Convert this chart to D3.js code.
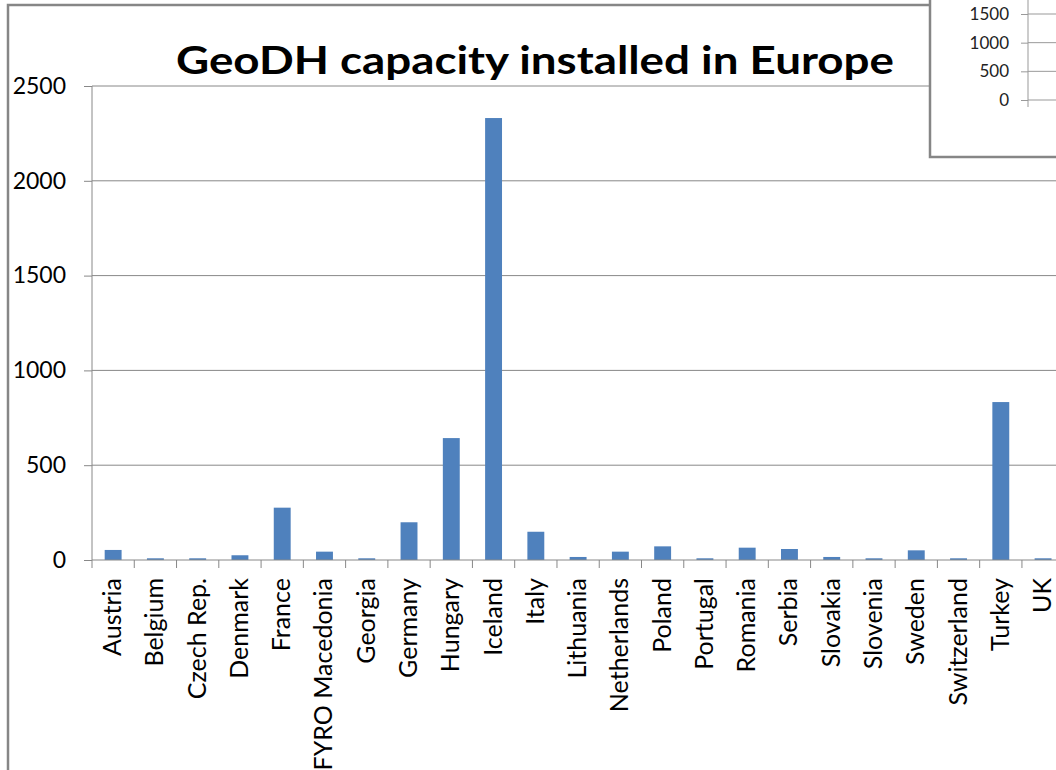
<!DOCTYPE html>
<html><head><meta charset="utf-8">
<script src="https://cdn.jsdelivr.net/npm/d3@7"></script>
<style>body{margin:0;background:#fff;overflow:hidden}svg{display:block}</style>
</head><body>
<svg id="c" width="1056" height="770"></svg>
<script>
const categories = ["Austria","Belgium","Czech Rep.","Denmark","France","FYRO Macedonia","Georgia","Germany","Hungary","Iceland","Italy","Lithuania","Netherlands","Poland","Portugal","Romania","Serbia","Slovakia","Slovenia","Sweden","Switzerland","Turkey","UK"];
const values = [53,9,9,25,276,44,9,199,643,2331,149,16,44,72,9,65,58,16,9,51,9,833,9];
const yTicks = [0,500,1000,1500,2000,2500];
const insetTicks = [0,500,1000,1500];
const title = "GeoDH capacity installed in Europe";

const svg = d3.select("#c");
const font = "Lato, 'Open Sans', sans-serif";

// outer frame
svg.append("rect").attr("x",8).attr("y",5).attr("width",1200).attr("height",900)
  .attr("fill","#fff").attr("stroke","#868686").attr("stroke-width",2.5);

const x = d3.scaleBand().domain(categories).range([92, 92 + 23*42.27]).paddingInner(0.6).paddingOuter(0.3);
const y = d3.scaleLinear().domain([0,2500]).range([560,86]);

// gridlines
svg.append("g").selectAll("line").data(yTicks.filter(d=>d>0)).join("line")
  .attr("x1",92).attr("x2",1100).attr("y1",d=>y(d)).attr("y2",d=>y(d))
  .attr("stroke","#888").attr("stroke-width",1);

// bars
svg.append("g").selectAll("rect").data(values).join("rect")
  .attr("x",(d,i)=>x(categories[i])).attr("width",x.bandwidth())
  .attr("y",d=>y(d)).attr("height",d=>y(0)-y(d)).attr("fill","#4f81bd");

// y axis
const ya = svg.append("g").attr("transform","translate(92,0)")
  .call(d3.axisLeft(y).tickValues(yTicks).tickSize(8).tickPadding(18).tickFormat(d3.format("d")));
ya.select(".domain").attr("stroke","#888").attr("d","M0,86V560");
ya.selectAll(".tick line").attr("stroke","#888");
ya.selectAll("text").attr("font-family",font).attr("font-size",23).attr("fill","#000");

// x axis
const bandStep = x.step();
const xa = svg.append("g").attr("transform","translate(0,560)");
xa.append("line").attr("x1",92).attr("x2",1100).attr("stroke","#888");
const bounds = d3.range(categories.length+1).map(i=>92 + i*bandStep);
xa.selectAll("line.t").data(bounds).join("line").attr("class","t")
  .attr("x1",d=>d).attr("x2",d=>d).attr("y1",0).attr("y2",8).attr("stroke","#888");
xa.selectAll("text").data(categories).join("text")
  .attr("transform",d=>`translate(${x(d)+x.bandwidth()/2+8},18) rotate(-90)`)
  .attr("text-anchor","end").attr("font-family",font).attr("font-size",25).attr("fill","#000")
  .text(d=>d);

// title
svg.append("text").attr("x",535).attr("y",74).attr("text-anchor","middle")
  .attr("font-family",font).attr("font-weight","bold").attr("font-size",39)
  .attr("textLength",718).attr("lengthAdjust","spacingAndGlyphs").text(title);

// inset chart fragment
const inset = svg.append("g");
inset.append("rect").attr("x",930).attr("y",-10).attr("width",200).attr("height",167)
  .attr("fill","#fff").attr("stroke","#868686").attr("stroke-width",2.5);
const yi = d3.scaleLinear().domain([0,1500]).range([100,14]);
inset.selectAll("line.g").data(insetTicks).join("line").attr("class","g")
  .attr("x1",1028).attr("x2",1100).attr("y1",d=>yi(d)).attr("y2",d=>yi(d)).attr("stroke","#999");
const ia = inset.append("g").attr("transform","translate(1028,0)")
  .call(d3.axisLeft(yi).tickValues(insetTicks).tickSize(7).tickPadding(12).tickFormat(d3.format("d")));
ia.select(".domain").attr("stroke","#999").attr("d","M0,0V107");
ia.selectAll(".tick line").attr("stroke","#999");
ia.selectAll("text").attr("font-family",font).attr("font-size",17).attr("fill","#222");
</script>
</body></html>
